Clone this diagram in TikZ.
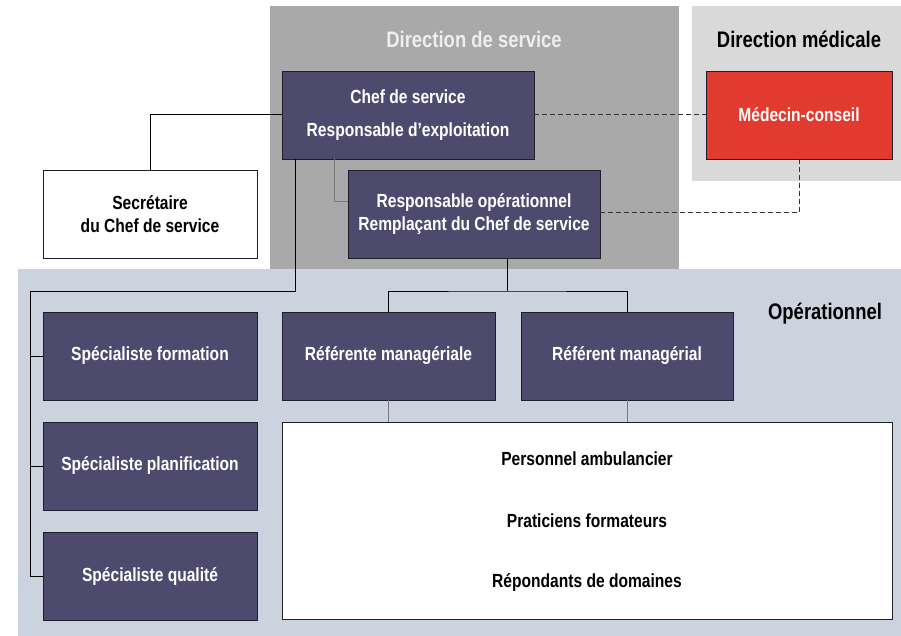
\documentclass[tikz,border=0pt]{standalone}
\usepackage{fontspec}
\setmainfont{Liberation Sans}[FakeStretch=0.82]
\usetikzlibrary{calc}
\definecolor{nodefill}{HTML}{4E4A6E}
\definecolor{nodeborder}{HTML}{1F1F2A}
\definecolor{dirgray}{HTML}{A9A9A9}
\definecolor{medgray}{HTML}{D9D9D9}
\definecolor{opbg}{HTML}{CBD3DF}
\definecolor{medred}{HTML}{E13A2E}
\definecolor{headlight}{HTML}{EEEEEE}
\definecolor{linegray}{HTML}{7A7A7A}
\tikzset{
  darkbox/.style={draw=nodeborder, line width=0.9pt, fill=nodefill, text=white, align=center,
    font=\fontsize{19}{23}\selectfont\bfseries, inner sep=0pt},
  whitebox/.style={draw=nodeborder, line width=0.9pt, fill=white, text=black, align=center,
    font=\fontsize{19}{23}\selectfont\bfseries, inner sep=0pt},
  redbox/.style={draw=nodeborder, line width=0.9pt, fill=medred, text=white, align=center,
    font=\fontsize{19}{23}\selectfont\bfseries, inner sep=0pt},
  header/.style={font=\fontsize{22.5}{27}\selectfont\bfseries, inner sep=0pt},
  plaintext/.style={font=\fontsize{19}{23}\selectfont\bfseries, inner sep=0pt, text=black},
  link/.style={draw=black, line width=1pt},
  graylink/.style={draw=linegray, line width=1pt},
  dashlink/.style={draw=black!80, line width=1pt, dash pattern=on 5pt off 3pt},
}
\begin{document}
\begin{tikzpicture}[x=1pt,y=-1pt]
\useasboundingbox (0,0) rectangle (901,636);
\fill[white] (0,0) rectangle (901,636);
% background panels
\fill[opbg] (18,269) rectangle (901,636);
\fill[dirgray] (270,6) rectangle (679,269);
\fill[medgray] (692,6) rectangle (901,181);
% headers
\node[header, text=headlight] (hdir) at (474,39) {Direction de service};
\node[header, text=black] (hmed) at (799,39) {Direction médicale};
\node[header, text=black] (hop) at (825,314) {Opérationnel};
% nodes
\node[darkbox, minimum width=252pt, minimum height=88pt] (chef) at (408,115)
  {Chef de service\\[10pt]Responsable d’exploitation};
\node[whitebox, minimum width=214pt, minimum height=88pt] (sec) at (150,214)
  {Secrétaire\\du Chef de service};
\node[darkbox, minimum width=252pt, minimum height=88pt] (resp) at (474,214)
  {Responsable opérationnel\\Remplaçant du Chef de service};
\node[redbox, minimum width=186pt, minimum height=88pt] (med) at (799,115)
  {Médecin-conseil};
\node[darkbox, minimum width=214pt, minimum height=88pt] (spf) at (150,356)
  {Spécialiste formation};
\node[darkbox, minimum width=214pt, minimum height=88pt] (spp) at (150,466)
  {Spécialiste planification};
\node[darkbox, minimum width=214pt, minimum height=88pt] (spq) at (150,576)
  {Spécialiste qualité};
\node[darkbox, minimum width=213pt, minimum height=88pt] (refa) at (388.5,356)
  {Référente managériale};
\node[darkbox, minimum width=212pt, minimum height=88pt] (refb) at (627,356)
  {Référent managérial};
\node[whitebox, minimum width=610pt, minimum height=197pt] (box) at (587,520.5) {};
\node[plaintext] (t1) at (587,459) {Personnel ambulancier};
\node[plaintext] (t2) at (587,521) {Praticiens formateurs};
\node[plaintext] (t3) at (587,582) {Répondants de domaines};
% connectors
\draw[link] (chef.west) -| (sec.north);
\coordinate (j1) at (30,291);
\draw[link] ([xshift=14pt]chef.south west) |- (j1) |- (spq.west);
\draw[link] (j1 |- spf.west) -- (spf.west);
\draw[link] (j1 |- spp.west) -- (spp.west);
\draw[graylink] ([xshift=53pt]chef.south west) |- ([yshift=12pt]resp.west);
\draw[dashlink] (chef.east) -- (med.west);
\draw[dashlink] (med.south) |- ([yshift=1pt]resp.east);
\coordinate (j2) at (507,291);
\draw[link] ([xshift=33pt]resp.south) -- (j2);
\draw[link] (refa.north) |- (j2) -| (refb.north);
\draw[graylink] (refa.south) -- (refa.south |- box.north);
\draw[graylink] (refb.south) -- (refb.south |- box.north);
\end{tikzpicture}
\end{document}
